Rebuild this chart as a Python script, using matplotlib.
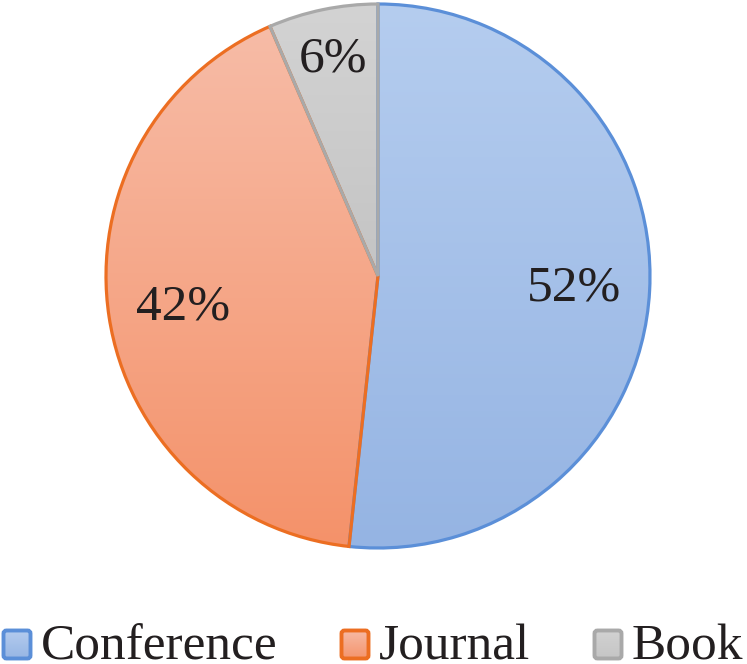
import matplotlib
matplotlib.use("Agg")
import matplotlib.pyplot as plt
import numpy as np
from matplotlib.colors import to_rgb
from matplotlib.patches import FancyBboxPatch

# ---- data ----
categories = ["Conference", "Journal", "Book"]
shares = [51.7, 41.8, 6.5]
pct_labels = ["52%", "42%", "6%"]

# ---- style ----
edge_colors = ["#5B8FD8", "#EC6E22", "#A9A9A9"]
grad_top = ["#B5CDEF", "#F7BCA7", "#D3D3D3"]
grad_bottom = ["#95B4E3", "#F4926A", "#C4C4C4"]
label_dist = [0.72, 0.725, 0.82]
FONT = "Liberation Serif"
TXT = "#231F20"

W, H = 747, 664
fig = plt.figure(figsize=(W / 100, H / 100), dpi=100)
ax = fig.add_axes([0, 0, 1, 1])

cx, cy, R = 378, H - 276, 272
wedges, _ = ax.pie(shares, startangle=90, counterclock=False, center=(cx, cy), radius=R,
                   wedgeprops=dict(facecolor="none", edgecolor="none"))


def gradient_img(top, bot, n=256):
    t = np.linspace(0, 1, n)[:, None]
    c = (1 - t) * np.array(to_rgb(top)) + t * np.array(to_rgb(bot))
    return c[:, None, :]


for i, (w, top, bot, ec) in enumerate(zip(wedges, grad_top, grad_bottom, edge_colors)):
    bb = w.get_path().get_extents()
    im = ax.imshow(gradient_img(top, bot), extent=(bb.x0, bb.x1, bb.y0, bb.y1),
                   origin="upper", aspect="auto", interpolation="bilinear", zorder=1)
    im.set_clip_path(w)
    w.set_edgecolor(ec)
    w.set_linewidth(2.3)
    w.set_zorder(3 + 0.1 * i)

for w, lab, d in zip(wedges, pct_labels, label_dist):
    mid = np.deg2rad((w.theta1 + w.theta2) / 2)
    x = cx + d * R * np.cos(mid)
    y = cy + d * R * np.sin(mid) - 2
    ax.text(x, y, lab, ha="center", va="center", fontsize=37, family=FONT, color=TXT, zorder=5)

# ---- legend ----
marker_x = [2, 340, 593]
msize = 30
my = 4
for cat, mx, top, bot, ec in zip(categories, marker_x, grad_top, grad_bottom, edge_colors):
    box = FancyBboxPatch((mx + 1.5, my + 1.5), msize - 3, msize - 2,
                         boxstyle="round,pad=0,rounding_size=3",
                         facecolor="none", edgecolor=ec, linewidth=2.8, zorder=6)
    ax.add_patch(box)
    im = ax.imshow(gradient_img(top, bot), extent=(mx, mx + msize, my, my + msize + 1),
                   origin="upper", aspect="auto", interpolation="bilinear", zorder=5)
    im.set_clip_path(box)
    ax.text(mx + 39, 5, cat, ha="left", va="baseline", fontsize=37, family=FONT, color=TXT)

ax.set_xlim(0, W)
ax.set_ylim(0, H)
ax.set_aspect("equal")
ax.axis("off")
fig.savefig("out.png", dpi=100)
